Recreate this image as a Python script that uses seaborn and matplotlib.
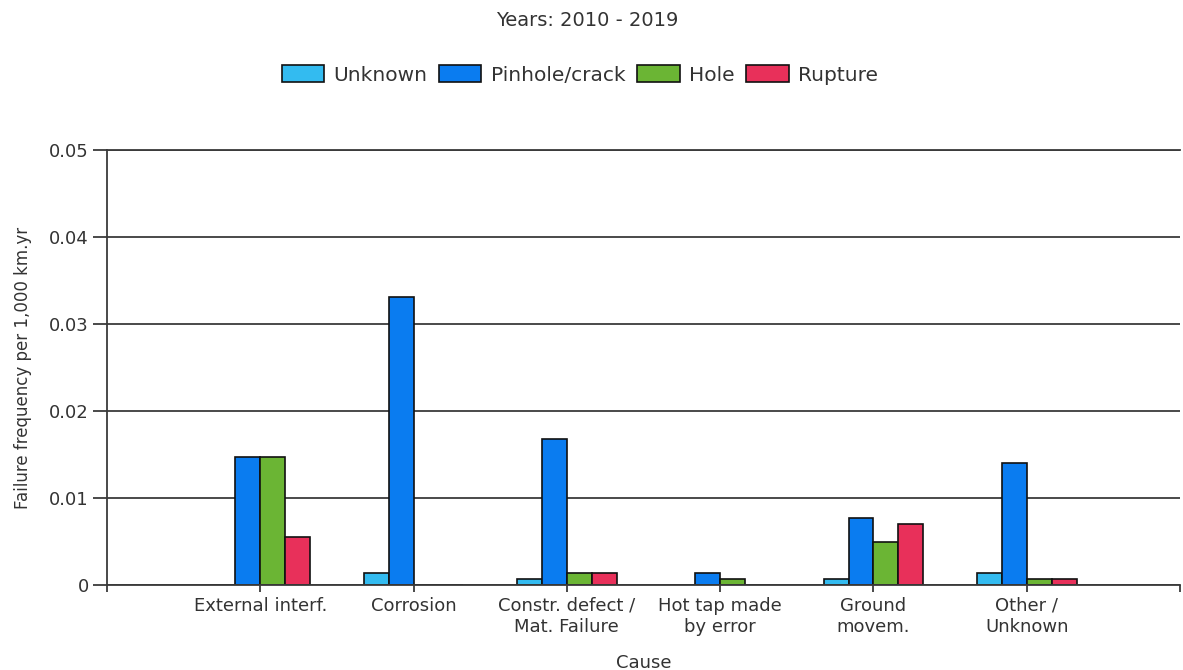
import matplotlib
matplotlib.use("Agg")
import matplotlib.pyplot as plt
import matplotlib.ticker as mticker
import seaborn as sns
import pandas as pd

# values (failure frequency per 1,000 km.yr)
causes = ["External interf.", "Corrosion", "Constr. defect /\nMat. Failure",
          "Hot tap made\nby error", "Ground\nmovem.", "Other /\nUnknown"]
sizes = ["Unknown", "Pinhole/crack", "Hole", "Rupture"]
unknown = [0.0, 0.0014, 0.0007, 0.0, 0.0007, 0.0014]
pinhole = [0.0147, 0.0331, 0.0168, 0.0014, 0.0077, 0.0140]
hole = [0.0147, 0.0, 0.0014, 0.0007, 0.0049, 0.0007]
rupture = [0.0055, 0.0, 0.0014, 0.0, 0.0070, 0.0007]
colors = ["#33bbf0", "#0a7cf0", "#6bb534", "#e8305a"]

rows = []
for size, vals in zip(sizes, [unknown, pinhole, hole, rupture]):
    for c, v in zip(causes, vals):
        rows.append({"Cause": c, "Size": size, "Freq": v})
df = pd.DataFrame(rows)

sns.set_style("white")
plt.rcParams["font.family"] = ["DejaVu Sans"]
text_col = "#333333"
line_col = "#3a3a3a"

fig = plt.figure(figsize=(11.83, 6.70), dpi=100)
ax = fig.add_axes([0.0904, 0.1269, 0.9071, 0.6491])

sns.barplot(data=df, x="Cause", y="Freq", hue="Size", order=causes, hue_order=sizes,
            palette=dict(zip(sizes, colors)), width=0.65, edgecolor="#111111",
            linewidth=1.2, saturation=1, ax=ax)

ax.set_xlim(-1, len(causes))
ax.set_ylim(0, 0.05)
ax.set_yticks([0, 0.01, 0.02, 0.03, 0.04, 0.05])
ax.yaxis.set_major_formatter(mticker.FuncFormatter(lambda v, p: "0" if v == 0 else f"{v:.2f}"))
ax.set_xticks(range(len(causes)))
ax.set_xticklabels(causes, fontsize=13, color=text_col)
ax.set_xticks([-1, len(causes)], minor=True)
ax.tick_params(axis="x", which="both", length=5, width=1.3, color=line_col, bottom=True)
ax.tick_params(axis="y", length=10, width=1.3, color=line_col, labelsize=13,
               labelcolor=text_col, left=True, pad=3)

ax.yaxis.grid(True, color=line_col, linewidth=1.3)
ax.set_axisbelow(True)
ax.spines["right"].set_visible(False)
for s in ["left", "bottom", "top"]:
    ax.spines[s].set_color(line_col)
    ax.spines[s].set_linewidth(1.3)

ax.set_xlabel("Cause", fontsize=13, color=text_col, labelpad=13)
ax.set_ylabel("Failure frequency per 1,000 km.yr", fontsize=12, color=text_col, labelpad=12)

handles, labels = ax.get_legend_handles_labels()
ax.get_legend().remove()
fig.legend(handles, labels, loc="center", bbox_to_anchor=(0.49, 0.888), ncol=4,
           frameon=False, fontsize=14.5, handlelength=2.1, handleheight=0.9,
           handletextpad=0.45, columnspacing=0.6, labelcolor=text_col)

fig.text(0.496, 0.97, "Years: 2010 - 2019", ha="center", va="center",
         fontsize=14, color=text_col)

fig.savefig("out.png", dpi=100)
